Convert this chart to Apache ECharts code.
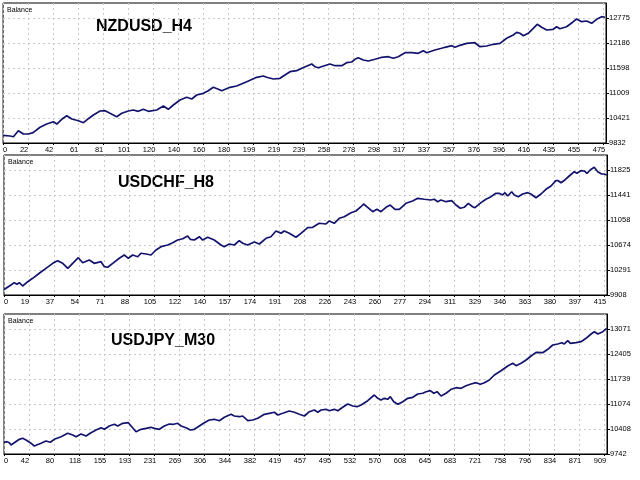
<!DOCTYPE html>
<html>
<head>
<meta charset="utf-8">
<script src="https://cdn.jsdelivr.net/npm/echarts@6/dist/echarts.min.js"></script>
<style>
html, body { margin: 0; padding: 0; background: #fff; }
#chart { width: 640px; height: 480px; }
</style>
</head>
<body>
<div id="chart"></div>
<script>
// three balance curves, [trade number, balance]
var titles = ['NZDUSD_H4', 'USDCHF_H8', 'USDJPY_M30'];

var nzdusdBalance = [[0,10010],[5.5,9997],[8.2,9980],[12.1,10122],[16.1,10044],[20.1,10044],[23.8,10075],[29.3,10202],[34.6,10279],[39.9,10333],[42.6,10279],[46.5,10390],[50.5,10475],[54.5,10397],[59.7,10357],[63.7,10310],[67.6,10404],[71.6,10491],[76.9,10585],[80.9,10592],[84.8,10531],[90.1,10451],[94.1,10531],[99.3,10585],[103.3,10609],[107.2,10578],[111.2,10625],[115.2,10578],[121.8,10609],[127.1,10703],[131,10625],[135,10727],[140.3,10844],[145.6,10908],[149.6,10868],[153.5,10962],[158.8,11002],[162.7,11063],[166.7,11143],[170.7,11096],[173.4,11063],[179.9,11143],[185.2,11174],[193.2,11275],[201.1,11379],[206.3,11409],[209,11379],[214.3,11339],[219.6,11355],[223.5,11433],[227.5,11511],[232.8,11534],[236.8,11591],[238,11551],[244.7,11692],[247.3,11628],[249.9,11605],[251.3,11605],[259.2,11692],[263.2,11652],[264.5,11605],[268.5,11652],[272.4,11723],[276.4,11739],[279,11803],[281.6,11840],[285.6,11786],[289.6,11763],[294.9,11803],[300.2,11850],[305.4,11864],[309.4,11826],[313.3,11864],[318.7,11958],[324,11958],[329.2,11944],[333.2,12005],[335.9,11958],[342.4,12022],[347.7,12062],[350.4,12085],[355.7,12123],[358.3,12085],[362.3,12132],[367.6,12179],[374.1,12193],[378.1,12099],[383.4,12116],[388.7,12156],[394,12179],[399.3,12297],[404.5,12375],[407.2,12438],[409.8,12415],[412.5,12358],[416.4,12415],[420.4,12532],[423.5,12627],[427,12556],[431,12492],[436.2,12509],[438.9,12570],[441.5,12523],[446.8,12570],[452.1,12688],[454.8,12751],[458.7,12688],[462.7,12704],[466.7,12650],[470.6,12744],[474.6,12806],[477.2,12792]];
var nzdusdXLabels = [0,22,42,61,81,101,120,140,160,180,199,219,239,258,278,298,317,337,357,376,396,416,435,455,475];
var nzdusdYLabels = [9832,10421,11009,11598,12186,12775];

var usdchfBalance = [[0,9990],[1.4,10011],[4.8,10061],[7.1,10097],[9,10072],[10.6,10097],[12.9,10046],[16.4,10112],[19.8,10164],[24.4,10241],[29,10317],[33.7,10394],[37.1,10434],[40.6,10394],[44.1,10317],[47.5,10394],[51.4,10480],[54.4,10403],[59,10445],[62.4,10394],[67.1,10419],[69.4,10342],[71.7,10333],[75.2,10394],[79.7,10471],[83.2,10521],[86,10471],[89,10521],[92.5,10495],[94.7,10548],[98.2,10537],[101.7,10521],[105.1,10598],[108.6,10649],[113.2,10675],[116.7,10710],[120.1,10751],[123.6,10771],[127,10813],[128.8,10762],[131.6,10751],[135.1,10802],[137.4,10751],[140.9,10793],[145.4,10751],[150.1,10675],[152.3,10649],[155.8,10690],[159.3,10675],[162.7,10741],[165.1,10701],[168.5,10675],[173.1,10721],[176.6,10690],[181.2,10778],[184.6,10802],[188.1,10889],[191.6,10854],[193.8,10889],[197.3,10854],[201.9,10793],[205.4,10854],[210,10940],[213.5,10946],[218,11008],[219.2,11017],[222.7,10997],[225,11043],[228.4,11008],[231.9,11084],[235.3,11109],[240,11170],[243.4,11196],[246.9,11262],[248.7,11304],[251.5,11253],[255,11185],[257.9,11222],[260.7,11185],[264.2,11253],[267.1,11288],[270.4,11222],[273.4,11222],[278,11314],[282.6,11350],[286.1,11391],[290.7,11376],[295.3,11365],[297.6,11376],[299.9,11339],[302.2,11365],[305.7,11339],[309.6,11354],[312.6,11288],[315.6,11238],[318.3,11253],[321.1,11314],[324.1,11262],[325.7,11247],[329.9,11324],[333.3,11376],[336.8,11416],[340.2,11468],[342.5,11468],[344.9,11442],[346.5,11477],[348.3,11426],[351.1,11492],[352.9,11442],[355.7,11416],[358.7,11457],[362.2,11477],[364.4,11457],[367.9,11400],[371.4,11457],[374.8,11529],[378.3,11580],[381.7,11661],[383.3,11661],[385.2,11630],[387.9,11672],[390.9,11733],[394.4,11799],[396.2,11774],[399,11814],[401.3,11810],[403.2,11774],[405.4,11825],[408.2,11866],[410.6,11799],[413.3,11764],[415.1,11764],[416.8,11748]];
var usdchfXLabels = [0,19,37,54,71,88,105,122,140,157,174,191,208,226,243,260,277,294,311,329,346,363,380,397,415];
var usdchfYLabels = [9908,10291,10674,11058,11441,11825];

var usdjpyBalance = [[0,10050],[4.5,10070],[8,10043],[10.6,9982],[15.6,10043],[23.2,10133],[28.3,10160],[33.3,10115],[39.8,10043],[45.9,9955],[48.5,9936],[56.1,10027],[63.6,10088],[70.1,10054],[76.2,10133],[86.4,10203],[96.5,10293],[104.1,10248],[109.1,10203],[116.7,10275],[124.2,10221],[131.8,10309],[139.4,10381],[147,10442],[152,10400],[159.5,10488],[167.1,10533],[172.3,10488],[179.8,10560],[188.3,10576],[193.5,10469],[200,10336],[207.6,10400],[215.1,10426],[222.7,10453],[227.7,10426],[235.3,10400],[242.9,10488],[250.4,10541],[257.1,10533],[263.2,10560],[268.2,10488],[275.7,10442],[282.2,10381],[288.3,10400],[295.9,10488],[303.5,10576],[311,10647],[318.6,10666],[326.2,10629],[333.8,10719],[343.9,10799],[348.9,10754],[356.5,10735],[361.6,10754],[369.2,10629],[376.8,10647],[384.4,10693],[394.4,10799],[401.9,10826],[409.5,10853],[414.7,10781],[422.2,10826],[432.2,10887],[439.8,10853],[447.4,10799],[455,10754],[462.5,10869],[470.1,10914],[475.3,10853],[480.3,10914],[487.8,10932],[492.8,10895],[500.4,10932],[505.6,10895],[513.1,10986],[520.7,11074],[528.3,11020],[534.8,11002],[540.9,11047],[551,11162],[561,11313],[566.2,11225],[571.2,11180],[576.1,11225],[581.3,11199],[585.2,11268],[590.4,11135],[596.5,11066],[604,11135],[611.6,11225],[619.2,11252],[626.8,11340],[634.3,11359],[639.3,11401],[645.8,11428],[651,11359],[656,11401],[662.1,11287],[669.6,11359],[677.2,11465],[684.8,11508],[692.4,11492],[699.9,11561],[707.5,11606],[715.1,11641],[721.6,11598],[727.7,11641],[735.2,11713],[742.8,11846],[752.9,11960],[763.1,12086],[770.7,12158],[775.7,12094],[783.3,12158],[790.8,12245],[798.4,12352],[806,12450],[816.1,12440],[823.7,12530],[831.3,12645],[838.8,12672],[844.9,12706],[848.8,12672],[854,12759],[857.9,12690],[866.6,12706],[874.2,12733],[881.7,12823],[889.3,12938],[894.3,12999],[899.5,12938],[907.1,12999],[913,13090]];
var usdjpyXLabels = [0,42,80,118,155,193,231,269,306,344,382,419,457,495,532,570,608,645,683,721,758,796,834,871,909];
var usdjpyYLabels = [9742,10408,11074,11739,12405,13071];

// trades per grid cell (25px) on each x axis
var xSteps = [19.82, 17.29, 37.87];

var panels = [
    { data: nzdusdBalance, xLabels: nzdusdXLabels, yLabels: nzdusdYLabels, top: 3, left: 3, titleX: 144, titleY: 27 },
    { data: usdchfBalance, xLabels: usdchfXLabels, yLabels: usdchfYLabels, top: 155, left: 4, titleX: 166, titleY: 183 },
    { data: usdjpyBalance, xLabels: usdjpyXLabels, yLabels: usdjpyYLabels, top: 314, left: 4, titleX: 163, titleY: 341 }
];

var plotW = 603;
var plotH = 140;
var gridColor = '#c8c8c8';
var labelFont = 'Liberation Sans';

var grids = [], xAxes = [], yAxes = [], series = [], texts = [];

panels.forEach(function(p, i) {
    var step = xSteps[i];
    var xTicks = p.xLabels.map(function(l, k) { return k * step; });
    var yStep = (p.yLabels[p.yLabels.length - 1] - p.yLabels[0]) / (p.yLabels.length - 1);

    grids.push({
        left: p.left, top: p.top, width: plotW, height: plotH,
        show: true, borderColor: '#000', borderWidth: 1, backgroundColor: '#fff'
    });

    xAxes.push({
        type: 'value', gridIndex: i, min: 0, max: step * plotW / 25,
        axisLine: { show: true, onZero: false, lineStyle: { color: '#000', width: 1 } },
        axisTick: { show: true, length: 2, customValues: xTicks, lineStyle: { color: '#000' } },
        axisLabel: {
            customValues: xTicks, margin: 3, fontSize: 7.5, color: '#000', fontFamily: labelFont,
            formatter: function(v) {
                var k = Math.round(v / step);
                // MT4 draws the labels a little left of their grid line
                return (k === 0 ? '{first|' : '{lab|') + p.xLabels[k] + '}';
            },
            rich: {
                first: { fontSize: 7.5, color: '#000', fontFamily: labelFont, padding: [0, 0, 0, 4] },
                lab: { fontSize: 7.5, color: '#000', fontFamily: labelFont, padding: [0, 8, 0, 0] }
            }
        },
        splitLine: { show: true, lineStyle: { color: gridColor, width: 1, type: [2, 3] } }
    });

    yAxes.push({
        type: 'value', gridIndex: i, position: 'right',
        min: p.yLabels[0], max: p.yLabels[p.yLabels.length - 1] + 0.6 * yStep,
        axisLine: { show: true, onZero: false, lineStyle: { color: '#000', width: 1 } },
        axisTick: { show: true, length: 3, customValues: p.yLabels, lineStyle: { color: '#000' } },
        axisLabel: {
            customValues: p.yLabels, margin: 3, fontSize: 7.5, color: '#000', fontFamily: labelFont,
            formatter: function(v) { return String(Math.round(v)); }
        },
        splitLine: { show: true, lineStyle: { color: gridColor, width: 1, type: [2, 3] } }
    });

    series.push({
        type: 'line', xAxisIndex: i, yAxisIndex: i, data: p.data,
        showSymbol: false, symbol: 'none',
        lineStyle: { color: '#14146e', width: 1.7 },
        z: 3
    });

    texts.push({
        type: 'text', x: p.left + 4, y: p.top + 7,
        style: { text: 'Balance', font: '7px "Liberation Sans"', fill: '#000',
                 textVerticalAlign: 'middle', verticalAlign: 'middle' }
    });
    texts.push({
        type: 'text', x: p.titleX, y: p.titleY,
        style: { text: titles[i], font: 'bold 16px "Liberation Sans"', fill: '#000',
                 textAlign: 'center', align: 'center', textVerticalAlign: 'middle', verticalAlign: 'middle' }
    });
});

var chart = echarts.init(document.getElementById('chart'));
chart.setOption({
    animation: false,
    backgroundColor: '#fff',
    grid: grids,
    xAxis: xAxes,
    yAxis: yAxes,
    series: series,
    graphic: { elements: texts }
});
</script>
</body>
</html>
